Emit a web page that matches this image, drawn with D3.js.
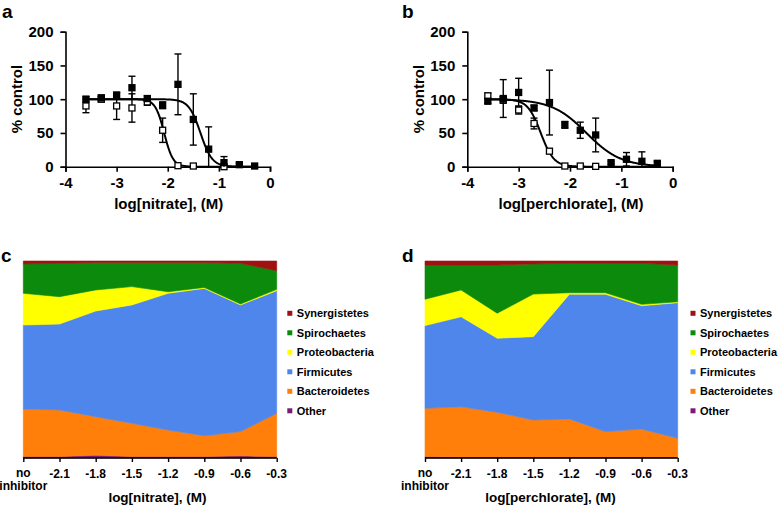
<!DOCTYPE html>
<html>
<head>
<meta charset="utf-8">
<script src="https://cdn.jsdelivr.net/npm/d3@7"></script>
<style>
  body { margin: 0; background: #fff; }
  svg { font-family: Arial, "Liberation Sans", sans-serif; font-weight: bold; }
</style>
</head>
<body>
<svg id="chart" width="780" height="505"></svg>
<script>
// ---- dose response data (log M, % control) ----
const nitrateLog = [-3.6, -3.3, -3.0, -2.7, -2.4, -2.1, -1.8, -1.5, -1.2, -0.9, -0.6, -0.3];
const nitrateFilled = [100, 102, 106, 117, 101, 91, 122, 70, 26, 6, 3, 1];
const nitrateFilledErr = [4, 4, 4, 17, 4, 5, 45, 38, 33, 9, 2, 1];
const nitrateOpen = [90, 100, 90, 87, 96, 54, 1.5, 1, null, 0, null, null];
const nitrateOpenErr = [10, 4, 20, 21, 5, 18, 1, 1, 0, 2, 0, 0];

const perchlorateLog = [-3.6, -3.3, -3.0, -2.7, -2.4, -2.1, -1.8, -1.5, -1.2, -0.9, -0.6, -0.3];
const perchlorateFilled = [97, 101, 110, 87, 95, 62, 54, 47, 6, 11, 8, 5];
const perchlorateFilledErr = [3, 28, 21, 4, 48, 5, 12, 25, 2, 10, 14, 3];
const perchlorateOpen = [105, 99, 84, 64, 23, 1, 1, 0.5, null, null, null, null];
const perchlorateOpenErr = [4, 5, 6, 8, 3, 1, 1, 1, 0, 0, 0, 0];

// fitted sigmoid parameters [logIC50, hill slope]
const nitrateFilledFit = [-1.36, 3.8];
const nitrateOpenFit = [-2.07, 5.0];
const perchlorateFilledFit = [-1.68, 1.3];
const perchlorateOpenFit = [-2.57, 3.4];

const doseTicksX = [-4, -3, -2, -1, 0];
const doseTicksY = [0, 50, 100, 150, 200];

// ---- community composition (% of reads) ----
const phyla = ["Other", "Bacteroidetes", "Firmicutes", "Proteobacteria", "Spirochaetes", "Synergistetes"];
const phylaColors = ["#7b1a7b", "#ff7f0a", "#4f86ec", "#ffff00", "#0b8a0b", "#a01212"];
const doseLabels = ["no inhibitor", "-2.1", "-1.8", "-1.5", "-1.2", "-0.9", "-0.6", "-0.3"];

const nitrateOther = [0.7, 0.7, 1.4, 0.7, 0.7, 0.7, 1.1, 0.7];
const nitrateBacteroidetes = [24.2, 23.7, 19.6, 16.9, 13.5, 10.6, 12.3, 22.0];
const nitrateFirmicutes = [42.6, 43.6, 53.6, 60.1, 69.4, 74.8, 64.3, 62.2];
const nitrateProteobacteria = [16.1, 13.9, 10.7, 9.3, 0.8, 0.5, 0.5, 0.7];
const nitrateSpirochaetes = [14.9, 16.9, 14.0, 12.3, 14.9, 12.7, 20.6, 9.5];
const nitrateSynergistetes = [1.5, 1.2, 0.7, 0.7, 0.7, 0.7, 1.2, 4.9];

const perchlorateOther = [0.7, 0.5, 0.5, 0.5, 0.5, 0.5, 0.5, 0.5];
const perchlorateBacteroidetes = [24.5, 25.5, 22.7, 18.8, 19.3, 12.9, 14.2, 9.5];
const perchlorateFirmicutes = [42.0, 45.7, 37.6, 42.3, 63.3, 69.7, 62.6, 68.8];
const perchlorateProteobacteria = [13.4, 13.6, 12.7, 21.6, 0.8, 0.8, 0.7, 0.5];
const perchlorateSpirochaetes = [17.4, 12.7, 24.5, 15.3, 14.9, 14.9, 20.8, 18.7];
const perchlorateSynergistetes = [2.0, 2.0, 2.0, 1.5, 1.2, 1.2, 1.2, 2.0];

const svg = d3.select("#chart");

function panelLabel(text, x, y) {
  svg.append("text").attr("x", x).attr("y", y)
    .attr("font-size", 19).text(text);
}

// dose-response panel
function doseGraph(opts) {
  const x = d3.scaleLinear().domain([-4, 0]).range([opts.left, opts.right]);
  const y = d3.scaleLinear().domain([0, 200]).range([166.7, 31.7]);
  const g = svg.append("g");

  // axes
  g.append("g")
    .attr("transform", "translate(0," + y(0) + ")")
    .call(d3.axisBottom(x).tickValues(doseTicksX).tickSize(5).tickPadding(6).tickFormat(d => String(d)))
    .call(a => a.select(".domain").attr("stroke-width", 1.6))
    .call(a => a.selectAll(".tick line").attr("stroke-width", 1.6))
    .call(a => a.selectAll("text").attr("font-size", 15).attr("fill", "#000"));
  g.append("g")
    .attr("transform", "translate(" + x(-4) + ",0)")
    .call(d3.axisLeft(y).tickValues(doseTicksY).tickSize(5).tickPadding(7))
    .call(a => a.select(".domain").attr("stroke-width", 1.6))
    .call(a => a.selectAll(".tick line").attr("stroke-width", 1.6))
    .call(a => a.selectAll("text").attr("font-size", 15).attr("fill", "#000"));

  // axis titles
  g.append("text")
    .attr("transform", "translate(" + (opts.left - 49) + "," + 99 + ") rotate(-90)")
    .attr("text-anchor", "middle").attr("dominant-baseline", "central")
    .attr("font-size", 15).text("% control");
  g.append("text")
    .attr("x", (x(-4) + x(0)) / 2 + 1).attr("y", 208.5)
    .attr("text-anchor", "middle").attr("font-size", 15).text(opts.title);

  // fitted curves
  const line = d3.line().x(d => x(d[0])).y(d => y(d[1]));
  const xs = d3.range(-3.6, -0.29, 0.01);
  [opts.openFit, opts.filledFit].forEach(p => {
    const pts = xs.map(v => [v, 100 / (1 + Math.pow(10, (v - p[0]) * p[1]))]);
    g.append("path").datum(pts).attr("d", line)
      .attr("fill", "none").attr("stroke", "#000").attr("stroke-width", 2);
  });

  // points with error bars
  function series(vals, errs, filled) {
    const data = opts.logs.map((v, i) => ({ x: v, y: vals[i], e: errs[i] })).filter(d => d.y !== null);
    const eg = g.append("g").attr("stroke", "#000").attr("stroke-width", 1.4);
    data.filter(d => d.e > 1.5).forEach(d => {
      eg.append("line").attr("x1", x(d.x)).attr("x2", x(d.x))
        .attr("y1", y(d.y + d.e)).attr("y2", y(Math.max(0, d.y - d.e)));
      [d.y + d.e, d.y - d.e].filter(v => v >= 0).forEach(v => {
        eg.append("line").attr("x1", x(d.x) - 3.5).attr("x2", x(d.x) + 3.5)
          .attr("y1", y(v)).attr("y2", y(v));
      });
    });
    g.append("g").selectAll("rect").data(data).join("rect")
      .attr("x", d => x(d.x) - 3).attr("y", d => y(d.y) - 3)
      .attr("width", 6).attr("height", 6)
      .attr("fill", filled ? "#000" : "#fff")
      .attr("stroke", "#000").attr("stroke-width", 1.3);
  }
  series(opts.open, opts.openErr, false);
  series(opts.filled, opts.filledErr, true);
}

doseGraph({
  left: 65.5, right: 270, title: "log[nitrate], (M)", logs: nitrateLog,
  filled: nitrateFilled, filledErr: nitrateFilledErr, open: nitrateOpen, openErr: nitrateOpenErr,
  filledFit: nitrateFilledFit, openFit: nitrateOpenFit
});
doseGraph({
  left: 467.3, right: 672.7, title: "log[perchlorate], (M)", logs: perchlorateLog,
  filled: perchlorateFilled, filledErr: perchlorateFilledErr, open: perchlorateOpen, openErr: perchlorateOpenErr,
  filledFit: perchlorateFilledFit, openFit: perchlorateOpenFit
});

// stacked area panel
function areaGraph(opts) {
  const x = d3.scalePoint().domain(doseLabels).range([opts.left, opts.right]);
  const y = d3.scaleLinear().domain([0, 100]).range([458, 261]);
  const g = svg.append("g");

  const rows = doseLabels.map((lab, i) => {
    const r = { label: lab };
    phyla.forEach(p => { r[p] = opts.values[p][i]; });
    return r;
  });
  const stacked = d3.stack().keys(phyla)(rows);
  const area = d3.area()
    .x(d => x(d.data.label)).y0(d => y(d[0])).y1(d => y(d[1]));

  g.selectAll("path.layer").data(stacked).join("path")
    .attr("class", "layer")
    .attr("d", area)
    .attr("fill", (d, i) => phylaColors[i])
    .attr("stroke", (d, i) => phylaColors[i])
    .attr("stroke-width", 0.6);

  // x axis
  g.append("g")
    .attr("transform", "translate(0,458)")
    .call(d3.axisBottom(x).tickSize(4).tickFormat(""))
    .call(a => a.select(".domain").attr("d", "M" + opts.left + ",0H" + opts.right).attr("stroke-width", 1.4))
    .call(a => a.selectAll(".tick line").attr("stroke-width", 1.4));

  doseLabels.forEach(lab => {
    const t = g.append("text").attr("x", x(lab)).attr("text-anchor", "middle").attr("font-size", 12);
    if (lab === "no inhibitor") {
      t.append("tspan").attr("x", x(lab)).attr("y", 477).text("no");
      t.append("tspan").attr("x", x(lab)).attr("y", 489.5).text("inhibitor");
    } else {
      t.attr("y", 478).text(lab);
    }
  });

  g.append("text")
    .attr("x", opts.titleX).attr("y", 502)
    .attr("text-anchor", "middle").attr("font-size", 13.5).text(opts.title);

  // legend, top entry first
  const legendKeys = phyla.slice().reverse();
  const lg = g.append("g");
  legendKeys.forEach((k, i) => {
    const cy = 313.3 + i * 19.5;
    lg.append("rect").attr("x", opts.legendX).attr("y", cy - 2.5)
      .attr("width", 5).attr("height", 5)
      .attr("fill", phylaColors[phyla.indexOf(k)]);
    lg.append("text").attr("x", opts.legendX + 9.5).attr("y", cy)
      .attr("dominant-baseline", "central").attr("font-size", 11).text(k);
  });
}

areaGraph({
  left: 23.3, right: 276.7, title: "log[nitrate], (M)", titleX: 157.5, legendX: 287.3,
  values: {
    Other: nitrateOther, Bacteroidetes: nitrateBacteroidetes, Firmicutes: nitrateFirmicutes,
    Proteobacteria: nitrateProteobacteria, Spirochaetes: nitrateSpirochaetes, Synergistetes: nitrateSynergistetes
  }
});
areaGraph({
  left: 425, right: 677.7, title: "log[perchlorate], (M)", titleX: 550.5, legendX: 690.5,
  values: {
    Other: perchlorateOther, Bacteroidetes: perchlorateBacteroidetes, Firmicutes: perchlorateFirmicutes,
    Proteobacteria: perchlorateProteobacteria, Spirochaetes: perchlorateSpirochaetes, Synergistetes: perchlorateSynergistetes
  }
});

panelLabel("a", 2, 18);
panelLabel("b", 402, 18);
panelLabel("c", 1, 262);
panelLabel("d", 402, 262);
</script>
</body>
</html>
